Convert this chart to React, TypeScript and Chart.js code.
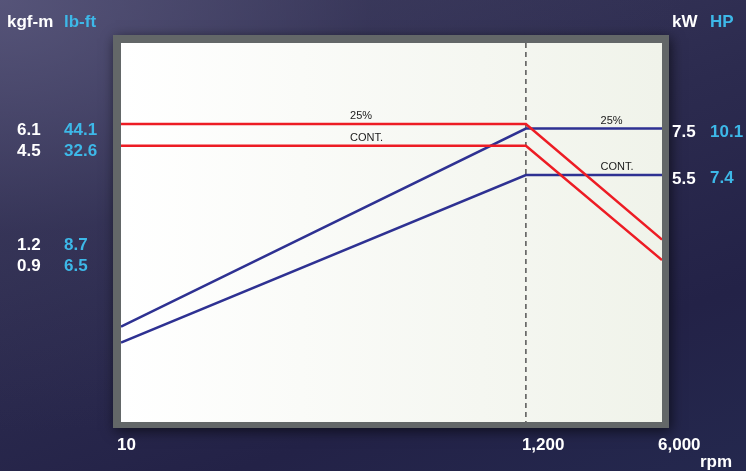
import React, { useEffect, useRef } from 'react';
import { Chart, registerables } from 'chart.js';

Chart.register(...registerables);

// ---- data ----
const rpm = [10, 1200, 6000];
const torque25 = [6.1, 6.1, 1.2];
const torqueCont = [4.5, 4.5, 0.9];
const power25 = [2.0, 7.5, 7.5];
const powerCont = [1.8, 5.5, 5.5];

const xTicks = [10, 1200, 6000];
const xTickLabels = ['10', '1,200', '6,000'];
const kgfTicks = [6.1, 4.5, 1.2, 0.9];
const lbftTicks = [44.1, 32.6, 8.7, 6.5];
const kwTicks = [7.5, 5.5];
const hpTicks = [10.1, 7.4];
const cornerRpm = 1200;

const KGF_TO_LBFT = 7.233;
const KW_TO_HP = 1.341;

const noteTexts = ['25%', 'CONT.', '25%', 'CONT.'];
const noteRpm = [150, 150, 2900, 2900];
const noteValues = [6.1, 4.5, 7.5, 5.5];
const noteAxes = ['yT', 'yT', 'yP', 'yP'];

// axis ranges
const T_MIN = 0.0922, T_MAX = 19.1;
const P_MIN = 1.059, P_MAX = 13.27;

const WHITE = '#ffffff';
const CYAN = '#3db8e8';
const RED = '#ed1c24';
const BLUE = '#2e3192';
const FONT = '"Liberation Sans", Arial, sans-serif';

const pts = (ys: number[]) => rpm.map((x, i) => ({ x, y: ys[i] }));

const framePlugin = {
  id: 'frame',
  beforeDraw(chart: any) {
    const { ctx, chartArea } = chart;
    const { left, top, right, bottom } = chartArea;
    ctx.save();
    ctx.shadowColor = 'rgba(0,0,0,0.6)';
    ctx.shadowBlur = 12;
    ctx.shadowOffsetX = 2;
    ctx.shadowOffsetY = 3;
    ctx.fillStyle = '#636768';
    ctx.fillRect(left - 8, top - 8, right - left + 15, bottom - top + 14);
    ctx.restore();
    ctx.save();
    const g = ctx.createLinearGradient(left, 0, right, 0);
    g.addColorStop(0, '#ffffff');
    g.addColorStop(1, '#f0f3ea');
    ctx.fillStyle = g;
    ctx.fillRect(left, top, right - left, bottom - top);
    ctx.restore();
  },
  beforeDatasetsDraw(chart: any) {
    const { ctx, chartArea, scales } = chart;
    const x = scales.x.getPixelForValue(cornerRpm);
    ctx.save();
    ctx.strokeStyle = '#555555';
    ctx.lineWidth = 1.5;
    ctx.setLineDash([5, 4]);
    ctx.beginPath();
    ctx.moveTo(x, chartArea.top);
    ctx.lineTo(x, chartArea.bottom);
    ctx.stroke();
    ctx.restore();
  },
  afterDraw(chart: any) {
    const { ctx, scales } = chart;
    ctx.save();
    // notes on lines
    ctx.font = `11px ${FONT}`;
    ctx.fillStyle = '#1a1a1a';
    ctx.textAlign = 'left';
    ctx.textBaseline = 'alphabetic';
    noteTexts.forEach((t, i) => {
      const px = scales.x.getPixelForValue(noteRpm[i]);
      const py = scales[noteAxes[i]].getPixelForValue(noteValues[i]);
      ctx.fillText(t, px, py - 5);
    });
    // axis titles
    ctx.font = `bold 17px ${FONT}`;
    ctx.fillStyle = WHITE;
    ctx.fillText('kgf-m', scales.yT.left - 10, 27);
    ctx.fillText('kW', scales.yP.left + 10, 27);
    ctx.fillStyle = CYAN;
    ctx.fillText('lb-ft', scales.yTL.left, 27);
    ctx.fillText('HP', scales.yPH.left, 27);
    ctx.fillStyle = WHITE;
    ctx.textAlign = 'right';
    ctx.fillText('rpm', scales.x.getPixelForValue(6000) + 70, 467);
    ctx.restore();
  },
};

const yAxis = (
  position: 'left' | 'right',
  min: number,
  max: number,
  ticks: number[],
  color: string,
  width: number,
  weight: number,
  padding: number,
  crossAlign: 'near' | 'far',
  labelOffset: number
) => ({
  type: 'logarithmic' as const,
  position,
  min,
  max,
  bounds: 'data' as const,
  weight,
  grid: { display: false, drawTicks: false },
  border: { display: false },
  afterBuildTicks: (s: any) => {
    s.ticks = ticks.map((v) => ({ value: v }));
  },
  afterFit: (s: any) => {
    s.width = width;
  },
  ticks: {
    color,
    autoSkip: false,
    padding,
    crossAlign,
    labelOffset,
    font: { size: 17, weight: 'bold' as const, family: FONT },
    callback: (v: any) => {
      const i = ticks.indexOf(Number(v));
      return i >= 0 ? String(ticks[i]) : '';
    },
  },
});

export default function App() {
  const ref = useRef<HTMLCanvasElement | null>(null);
  useEffect(() => {
    if (!ref.current) return;
    const chart = new Chart(ref.current, {
      type: 'line',
      data: {
        datasets: [
          { data: pts(torque25), borderColor: RED, borderWidth: 2.5, yAxisID: 'yT' },
          { data: pts(torqueCont), borderColor: RED, borderWidth: 2.5, yAxisID: 'yT' },
          { data: pts(power25), borderColor: BLUE, borderWidth: 2.5, yAxisID: 'yP' },
          { data: pts(powerCont), borderColor: BLUE, borderWidth: 2.5, yAxisID: 'yP' },
        ] as any,
      },
      options: {
        animation: false,
        responsive: true,
        maintainAspectRatio: false,
        parsing: false as any,
        elements: { point: { radius: 0 }, line: { tension: 0 } },
        layout: { padding: { left: 17, top: 43, right: 0, bottom: 0 } },
        plugins: { legend: { display: false }, tooltip: { enabled: false } },
        scales: {
          x: {
            type: 'logarithmic',
            position: 'bottom',
            min: 10,
            max: 6000,
            bounds: 'data',
            grid: { display: false, drawTicks: false },
            border: { display: false },
            afterBuildTicks: (s: any) => {
              s.ticks = xTicks.map((v) => ({ value: v }));
            },
            afterFit: (s: any) => {
              s.height = 49;
            },
            ticks: {
              color: WHITE,
              autoSkip: false,
              maxRotation: 0,
              align: 'start',
              labelOffset: -4,
              padding: 13,
              font: { size: 17, weight: 'bold', family: FONT },
              callback: (v: any) => {
                const i = xTicks.indexOf(Number(v));
                return i >= 0 ? xTickLabels[i] : '';
              },
            },
          } as any,
          yT: yAxis('left', T_MIN, T_MAX, kgfTicks, WHITE, 47, 1, 0, 'far', 6),
          yTL: yAxis('left', T_MIN * KGF_TO_LBFT, T_MAX * KGF_TO_LBFT, lbftTicks, CYAN, 57, 0, 0, 'far', 6),
          yP: yAxis('right', P_MIN, P_MAX, kwTicks, WHITE, 48, 0, 10, 'near', 4),
          yPH: yAxis('right', P_MIN * KW_TO_HP, P_MAX * KW_TO_HP, hpTicks, CYAN, 36, 1, 0, 'near', 4),
        } as any,
      },
      plugins: [framePlugin],
    });
    return () => chart.destroy();
  }, []);

  return (
    <div
      style={{
        position: 'fixed',
        left: 0,
        top: 0,
        width: 746,
        height: 471,
        background:
          'radial-gradient(ellipse at 0% 0%, rgba(90,88,125,0.85) 0%, rgba(60,58,92,0.4) 35%, rgba(0,0,0,0) 65%), linear-gradient(160deg, #3e3d60 0%, #2c2b4f 45%, #232247 75%, #24284e 100%)',
      }}
    >
      <canvas ref={ref} />
    </div>
  );
}
